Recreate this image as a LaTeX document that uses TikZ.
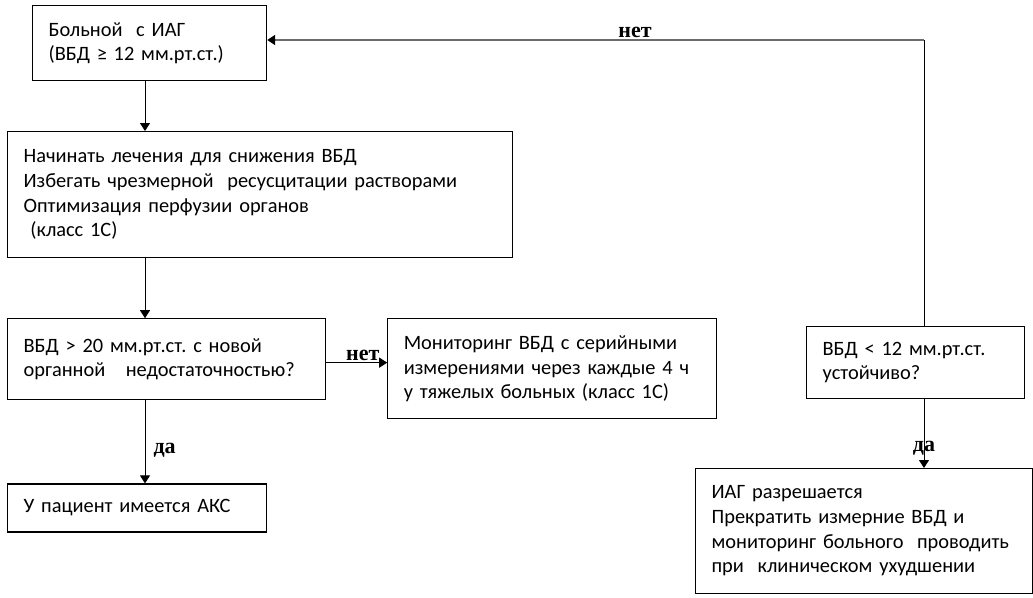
\documentclass[tikz,border=0pt]{standalone}
\usepackage{fontspec}
\setmainfont{Carlito}
\newfontfamily\labelfont{Liberation Serif}
\usetikzlibrary{positioning}
\usetikzlibrary{arrows.meta}
\frenchspacing

\tikzset{
	box/.style={draw, line width=0.9pt, align=left, inner xsep=12pt, inner ysep=0pt,
		font=\fontsize{15.3}{18.5}\selectfont},
	answer/.style={font=\labelfont\bfseries\fontsize{16.5}{16.5}\selectfont, inner sep=1pt},
}

\begin{document}
\begin{tikzpicture}[x=0.75pt, y=-0.75pt, line width=0.75pt, >={Triangle[length=6pt, width=7.5pt]}]
		\useasboundingbox (0,0) rectangle (1033,597);
		
		% left column
		\node (start) [box, anchor=north west, text width=151.5pt, minimum height=56.25pt,
			font=\fontsize{15.3}{18}\selectfont] at (32,5) {Больной\ \ с ИАГ\\(ВБД \smash{≥} 12 мм.рт.ст.)};
		\node (treat) [box, anchor=north west, text width=354.75pt, minimum height=94.5pt] at (7,131)
			{Начинать лечения для снижения ВБД\\Избегать чрезмерной\ \ ресусцитации растворами\\Оптимизация перфузии органов\\\ (класс 1С)};
		\node (check20) [box, below = 45pt of treat.south west, anchor=north west, text width=214.5pt, minimum height=60.75pt]
			{ВБД > 20 мм.рт.ст. с новой\\органной\ \ \ недостаточностью?};
		\node (acs) [box, below = 62.25pt of check20.south west, anchor=north west, text width=170.25pt, minimum height=36pt]
			{У пациент имеется АКС};
		\node (monitor) [box, right = 45.75pt of check20.north east, anchor=north west, text width=222.75pt, minimum height=75pt]
			{Мониторинг ВБД с серийными\\измерениями через каждые 4 ч\\у тяжелых больных (класс 1С)};
		
		% right column
		\node (check12) [box, anchor=north west, text width=139.5pt, minimum height=54pt] at (806,326)
			{ВБД < 12 мм.рт.ст.\\устойчиво?};
		\node (resolved) [box, anchor=north west, text width=228.75pt, minimum height=93.75pt] at (695,468)
			{ИАГ разрешается\\Прекратить измерние ВБД и\\мониторинг больного\ \ проводить\\при\ \ клиническом ухудшении};
		
		% where the arrows run
		\coordinate (spine) at (145,0);
		\coordinate (loop) at (924,40);
		
		\draw [->] (start.south -| spine) -- (treat.north -| spine);
		\draw [->] (treat.south -| spine) -- (check20.north -| spine);
		\draw [->] (check20.south -| spine) -- (acs.north -| spine)
			node [answer, right=5pt, pos=0.6] {да};
		\draw [->] ([yshift=-2.5pt]check20.east) -- ([yshift=-2.5pt]check20.east -| monitor.west)
			node [answer, above, pos=0.6] {нет};
		\draw [->] (check12.south -| loop) -- (resolved.north -| loop)
			node [answer, pos=0.71] {да};
		
		% back to the top
		\draw (check12.north -| loop) -- (loop);
		\draw [-{Triangle[length=6pt, width=7.5pt, black]}, gray!85!black, line width=1.4pt] (loop) -- (loop -| start.east)
			node [answer, above, pos=0.44, black] {нет};
\end{tikzpicture}
\end{document}
